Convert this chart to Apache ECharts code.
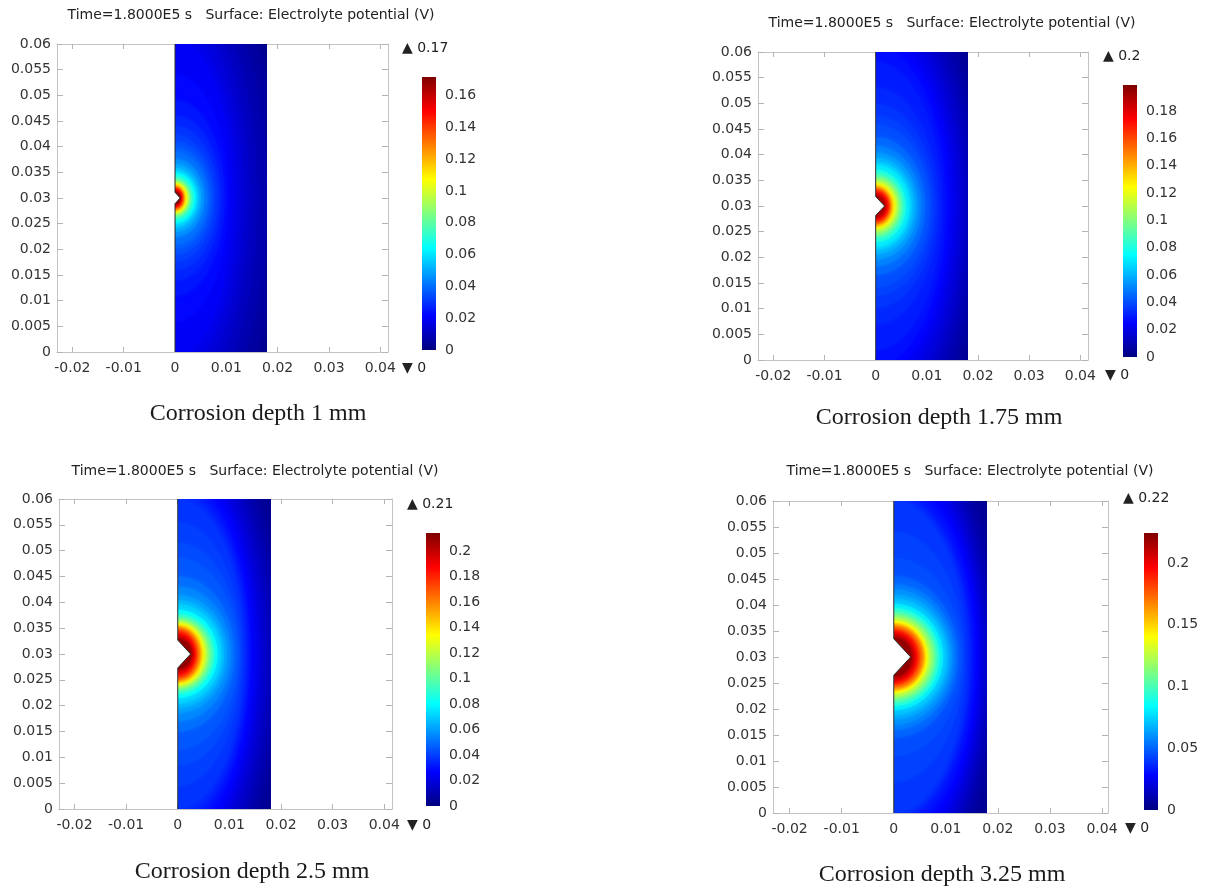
<!DOCTYPE html>
<html>
<head>
<meta charset="utf-8">
<script src="https://cdn.jsdelivr.net/npm/echarts/dist/echarts.min.js"></script>
<style>
html,body{margin:0;padding:0;background:#ffffff;}
#chart{width:1206px;height:888px;}
</style>
</head>
<body>
<div id="chart"></div>
<script>
// ---------------- DATA ----------------
const xTicks = [-0.02, -0.01, 0, 0.01, 0.02, 0.03, 0.04];
const yTicks = [0, 0.005, 0.01, 0.015, 0.02, 0.025, 0.03, 0.035, 0.04, 0.045, 0.05, 0.055, 0.06];
const depthLabels = ['1', '1.75', '2.5', '3.25'];
const titleText = 'Time=1.8000E5 s   Surface: Electrolyte potential (V)';
const domainRight = 0.018;      // electrolyte domain width (m)
const domainTop = 0.06;         // electrolyte domain height (m)
const notchCenter = 0.03;       // notch position (m)
const notchDepth = [0.001, 0.00175, 0.0025, 0.00325];
const notchHalf = [0.0011, 0.00185, 0.0027, 0.0035];
const potMax = [0.1716, 0.199, 0.2141, 0.2243];
const potMaxLabel = ['0.17', '0.2', '0.21', '0.22'];
const potMinLabel = ['0', '0', '0', '0'];
const baseLevel = [0.002, 0.003, 0.003, 0.003];
const cbarTicks1 = [0, 0.02, 0.04, 0.06, 0.08, 0.1, 0.12, 0.14, 0.16];
const cbarTicks2 = [0, 0.02, 0.04, 0.06, 0.08, 0.1, 0.12, 0.14, 0.16, 0.18];
const cbarTicks3 = [0, 0.02, 0.04, 0.06, 0.08, 0.1, 0.12, 0.14, 0.16, 0.18, 0.2];
const cbarTicks4 = [0, 0.05, 0.1, 0.15, 0.2];

// iso-potential levels (V) with their reach (mm) along the notch mid-line (X) and along the left wall (Y)
const levels1 = [0.17, 0.16, 0.15, 0.14, 0.13, 0.12, 0.11, 0.10, 0.09, 0.08, 0.07, 0.065, 0.06, 0.055, 0.05, 0.045, 0.04, 0.0375, 0.035, 0.0325, 0.03, 0.0275, 0.025, 0.0225, 0.02, 0.0175, 0.015, 0.0125, 0.01, 0.0075, 0.005];
const reachX1 = [1.02, 1.15, 1.35, 1.55, 1.75, 1.95, 2.2, 2.5, 2.8, 3.15, 3.6, 3.9, 4.2, 4.6, 5.1, 5.7, 6.4, 6.8, 7.3, 7.8, 8.4, 9.0, 9.7, 10.4, 11.2, 12.2, 13.3, 14.6, 16.1, 18.0, 20.5];
const reachY1 = [1.2, 1.45, 1.75, 2.0, 2.25, 2.5, 2.75, 3.0, 3.35, 3.8, 4.4, 4.8, 5.2, 5.8, 6.6, 7.6, 9.0, 9.9, 11, 12.3, 14, 16, 19, 24, 31, 34, 37, 40, 43, 46, 48];

const levels2 = [0.19, 0.18, 0.17, 0.16, 0.15, 0.14, 0.13, 0.12, 0.11, 0.10, 0.09, 0.08, 0.07, 0.065, 0.06, 0.055, 0.05, 0.045, 0.04, 0.0375, 0.035, 0.0325, 0.03, 0.0275, 0.025, 0.0225, 0.02, 0.0175, 0.015, 0.0125, 0.01, 0.0075, 0.005];
const reachX2 = [1.85, 2.15, 2.5, 2.75, 3.0, 3.25, 3.55, 3.9, 4.3, 4.75, 5.25, 5.85, 6.6, 7.05, 7.6, 8.2, 8.9, 9.7, 10.6, 11.1, 11.7, 12.3, 13.0, 13.7, 14.4, 15.1, 15.9, 16.7, 17.5, 18.3, 19.3, 20.5, 22];
const reachY2 = [2.1, 2.5, 2.9, 3.25, 3.55, 3.85, 4.15, 4.5, 5.0, 5.55, 6.2, 7.0, 8.0, 8.6, 9.4, 10.4, 11.7, 13.4, 15.8, 17.5, 19.8, 23, 28, 31, 33, 35, 37, 39, 41, 43, 45, 46.5, 48];

const levels3 = [0.21, 0.20, 0.19, 0.18, 0.17, 0.16, 0.15, 0.14, 0.13, 0.12, 0.11, 0.10, 0.09, 0.08, 0.07, 0.065, 0.06, 0.055, 0.05, 0.045, 0.0425, 0.04, 0.0375, 0.035, 0.0325, 0.03, 0.0275, 0.025, 0.0225, 0.02, 0.0175, 0.015, 0.0125, 0.01, 0.0075, 0.005];
const reachX3 = [2.65, 2.95, 3.3, 3.6, 3.9, 4.25, 4.55, 4.85, 5.2, 5.6, 6.0, 6.5, 7.05, 7.7, 8.5, 9.0, 9.6, 10.3, 11.0, 11.7, 12.05, 12.4, 12.8, 13.2, 13.6, 14.0, 14.45, 14.9, 15.45, 16.0, 16.6, 17.3, 18.1, 19.0, 20.1, 21.5];
const reachY3 = [2.9, 3.35, 3.9, 4.4, 4.8, 5.1, 5.4, 5.65, 5.95, 6.3, 6.65, 7.1, 7.7, 8.5, 9.6, 10.4, 11.4, 13.0, 15.0, 18.5, 21.5, 25.5, 30, 31.2, 32.5, 34, 35.5, 37, 38.3, 39.6, 41.2, 43, 44, 45.3, 46.6, 48.2];

const levels4 = [0.22, 0.21, 0.20, 0.19, 0.18, 0.17, 0.16, 0.15, 0.14, 0.13, 0.12, 0.11, 0.10, 0.09, 0.08, 0.07, 0.065, 0.06, 0.055, 0.05, 0.045, 0.0425, 0.04, 0.0375, 0.035, 0.0325, 0.03, 0.0275, 0.025, 0.0225, 0.02, 0.0175, 0.015, 0.0125, 0.01, 0.0075, 0.005];
const reachX4 = [3.45, 3.8, 4.25, 4.7, 5.05, 5.5, 5.8, 6.1, 6.4, 6.75, 7.25, 7.75, 8.25, 8.8, 9.45, 10.2, 10.7, 11.2, 11.8, 12.4, 13.1, 13.5, 13.9, 14.4, 14.8, 15.2, 15.7, 16.1, 16.5, 16.9, 17.3, 17.7, 18.1, 18.6, 19.2, 20.3, 21.7];
const reachY4 = [3.7, 4.2, 4.7, 5.15, 5.5, 5.9, 6.25, 6.55, 6.85, 7.2, 7.7, 8.2, 8.8, 9.4, 10.2, 11.2, 12, 13, 14, 15.5, 19, 24, 30, 30.7, 31.5, 32.9, 34.4, 36, 37.5, 38.5, 39.6, 41.3, 43.1, 44, 45.2, 46.5, 48.1];

// ---------------- LAYOUT / STYLE ----------------
const JET = ['#00007f', '#0000ff', '#007fff', '#00ffff', '#7fff7f', '#ffff00', '#ff7f00', '#ff0000', '#7f0000'];
const layout = [
  { plot: [57, 44, 331, 308], xr: [-0.023, 0.0415], bar: [422, 77, 14, 273], title: [251, 15], caption: [258, 414], up: [402, 48], down: [402, 368] },
  { plot: [758, 52, 330, 308], xr: [-0.023, 0.0415], bar: [1123, 85, 14, 272], title: [952, 23], caption: [939, 418], up: [1103, 56], down: [1105, 375] },
  { plot: [59, 499, 333, 310], xr: [-0.023, 0.0415], bar: [426, 533, 14, 273], title: [255, 471], caption: [252, 872], up: [407, 504], down: [407, 825] },
  { plot: [773, 501, 335, 312], xr: [-0.0232, 0.04115], bar: [1144, 533, 14, 277], title: [970, 471], caption: [942, 875], up: [1123, 498], down: [1125, 828] }
];
const levelsAll = [levels1, levels2, levels3, levels4];
const reachXAll = [reachX1, reachX2, reachX3, reachX4];
const reachYAll = [reachY1, reachY2, reachY3, reachY4];
const cbarTicksAll = [cbarTicks1, cbarTicks2, cbarTicks3, cbarTicks4];

const FONT = 'DejaVu Sans';
const LABEL_COLOR = '#333333';
const FRAME = '#c4c4c4';
const OVERSHOOT = 0.0015; // polygons run past the domain edge and are clipped there

function fieldItems(p) {
  const items = [[baseLevel[p], -1, -1]];
  const lv = levelsAll[p], rx = reachXAll[p], ry = reachYAll[p];
  for (let i = lv.length - 1; i >= 0; i--) items.push([lv[i], rx[i], ry[i]]);
  return items;
}

function makeFieldRenderer(items) {
  return function (params, api) {
    const a = api.value(1), b = api.value(2);
    const color = api.visual('color');
    const p0 = api.coord([0, domainTop]);
    const p1 = api.coord([domainRight, 0]);
    const cx0 = Math.round(p0[0]), cy0 = Math.round(p0[1]), cx1 = Math.round(p1[0]), cy1 = Math.round(p1[1]);
    const clip = { type: 'rect', shape: { x: cx0, y: cy0, width: cx1 - cx0, height: cy1 - cy0 } };
    if (a < 0) {
      return { type: 'rect', shape: { x: cx0 - 4, y: cy0 - 4, width: cx1 - cx0 + 8, height: cy1 - cy0 + 8 }, style: { fill: color }, clipPath: clip };
    }
    const prev = items[params.dataIndex - 1];
    const gapMm = prev[1] > 0 ? prev[1] - a : 2.5;
    const gapPx = api.size([gapMm / 1000, 0])[0];
    const blur = Math.max(1, Math.min(18, gapPx * 1.4));
    const ax = a / 1000, by = b / 1000;
    const yLo = -OVERSHOOT, yHi = domainTop + OVERSHOOT, xHi = domainRight + OVERSHOOT;
    const pts = [];
    const N = 160;
    for (let k = 0; k <= N; k++) {
      const t = -Math.PI / 2 + Math.PI * k / N;
      const x = Math.min(ax * Math.cos(t), xHi);
      const y = Math.max(yLo, Math.min(yHi, notchCenter + by * Math.sin(t)));
      pts.push(api.coord([x, y]));
    }
    const yEnd = Math.min(yHi, notchCenter + by);
    const yStart = Math.max(yLo, notchCenter - by);
    pts.push(api.coord([-OVERSHOOT, yEnd]));
    pts.push(api.coord([-OVERSHOOT, yStart]));
    return {
      type: 'polygon', shape: { points: pts },
      style: { fill: color, shadowBlur: blur, shadowColor: color },
      clipPath: clip
    };
  };
}

function renderNotch(params, api) {
  const d = api.value(0), h = api.value(1);
  const top = api.coord([0, notchCenter + h]);
  const tip = api.coord([d, notchCenter]);
  const bot = api.coord([0, notchCenter - h]);
  const wTop = api.coord([0, domainTop]);
  const wBot = api.coord([0, 0]);
  return {
    type: 'group',
    children: [
      { type: 'polygon', shape: { points: [top, tip, bot] }, style: { fill: '#ffffff' } },
      { type: 'polyline', shape: { points: [wBot, bot, tip, top, wTop] }, style: { stroke: '#2a2a2a', lineWidth: 1, fill: null } }
    ]
  };
}

function renderBar(params, api) {
  const p0 = api.coord([0, api.value(1)]);
  const p1 = api.coord([1, api.value(0)]);
  const stops = JET.map((c, i) => ({ offset: i / (JET.length - 1), color: c }));
  return {
    type: 'rect',
    shape: { x: p0[0], y: p0[1], width: p1[0] - p0[0], height: p1[1] - p0[1] },
    style: { fill: new echarts.graphic.LinearGradient(0, 1, 0, 0, stops) }
  };
}

function axisX(g, pos, labels, xr) {
  return {
    type: 'value', gridIndex: g, position: pos, min: xr[0], max: xr[1],
    axisLine: { show: true, onZero: false, lineStyle: { color: FRAME, width: 1 } },
    axisTick: { show: true, inside: true, length: 5, customValues: xTicks, lineStyle: { color: '#b4b4b4' } },
    axisLabel: { show: labels, customValues: xTicks, margin: 9, color: LABEL_COLOR, fontSize: 14, fontFamily: FONT, formatter: v => String(v) },
    splitLine: { show: false }
  };
}
function axisY(g, pos, labels) {
  return {
    type: 'value', gridIndex: g, position: pos, min: 0, max: domainTop,
    axisLine: { show: true, onZero: false, lineStyle: { color: FRAME, width: 1 } },
    axisTick: { show: true, inside: true, length: 6, customValues: yTicks, lineStyle: { color: '#b4b4b4' } },
    axisLabel: { show: labels, customValues: yTicks, margin: 6, color: LABEL_COLOR, fontSize: 14, fontFamily: FONT, formatter: v => String(v) },
    splitLine: { show: false }
  };
}
function textEl(x, y, text, font, fill, align) {
  return {
    type: 'text', x: x, y: y, silent: true, z: 100,
    style: { text: text, font: font, fill: fill, align: align, textAlign: align, verticalAlign: 'middle', textVerticalAlign: 'middle' }
  };
}

const grids = [], xAxes = [], yAxes = [], series = [], visualMaps = [], graphics = [];
for (let p = 0; p < 4; p++) {
  const L = layout[p];
  const g = grids.length;
  grids.push({ left: L.plot[0], top: L.plot[1], width: L.plot[2], height: L.plot[3], containLabel: false, outerBoundsMode: 'none', show: false });
  grids.push({ left: L.bar[0], top: L.bar[1], width: L.bar[2], height: L.bar[3], containLabel: false, outerBoundsMode: 'none', show: false });
  const xi = xAxes.length;
  xAxes.push(axisX(g, 'bottom', true, L.xr), axisX(g, 'top', false, L.xr),
    { type: 'value', gridIndex: g + 1, min: 0, max: 1, show: false });
  const yi = yAxes.length;
  yAxes.push(axisY(g, 'left', true), axisY(g, 'right', false), {
    type: 'value', gridIndex: g + 1, min: 0, max: potMax[p], position: 'right',
    axisLine: { show: false }, axisTick: { show: false }, splitLine: { show: false },
    axisLabel: { customValues: cbarTicksAll[p], margin: 9, color: LABEL_COLOR, fontSize: 14, fontFamily: FONT, formatter: v => String(v) }
  });
  const items = fieldItems(p);
  const si = series.length;
  series.push({ type: 'custom', name: 'field' + (p + 1), xAxisIndex: xi, yAxisIndex: yi, data: items, renderItem: makeFieldRenderer(items), silent: true, z: 2 });
  visualMaps.push({ type: 'continuous', show: false, seriesIndex: si, dimension: 0, min: 0, max: potMax[p], inRange: { color: JET } });
  series.push({ type: 'custom', name: 'notch' + (p + 1), xAxisIndex: xi, yAxisIndex: yi, data: [[notchDepth[p], notchHalf[p]]], renderItem: renderNotch, silent: true, z: 3 });
  series.push({ type: 'custom', name: 'colorbar' + (p + 1), xAxisIndex: xi + 2, yAxisIndex: yi + 2, data: [[0, potMax[p]]], renderItem: renderBar, silent: true, z: 2 });

  graphics.push(textEl(L.title[0], L.title[1], titleText, '14px "DejaVu Sans"', '#222222', 'center'));
  graphics.push(textEl(L.caption[0], L.caption[1], 'Corrosion depth ' + depthLabels[p] + ' mm', '24px "Liberation Serif"', '#1a1a1a', 'center'));
  graphics.push(textEl(L.up[0], L.up[1], '\u25B2 ' + potMaxLabel[p], '14px "DejaVu Sans"', '#222222', 'left'));
  graphics.push(textEl(L.down[0], L.down[1], '\u25BC ' + potMinLabel[p], '14px "DejaVu Sans"', '#222222', 'left'));
}

const chart = echarts.init(document.getElementById('chart'), null, { renderer: 'canvas' });
chart.setOption({
  backgroundColor: '#ffffff',
  animation: false,
  grid: grids,
  xAxis: xAxes,
  yAxis: yAxes,
  visualMap: visualMaps,
  series: series,
  graphic: { elements: graphics }
});
</script>
</body>
</html>
